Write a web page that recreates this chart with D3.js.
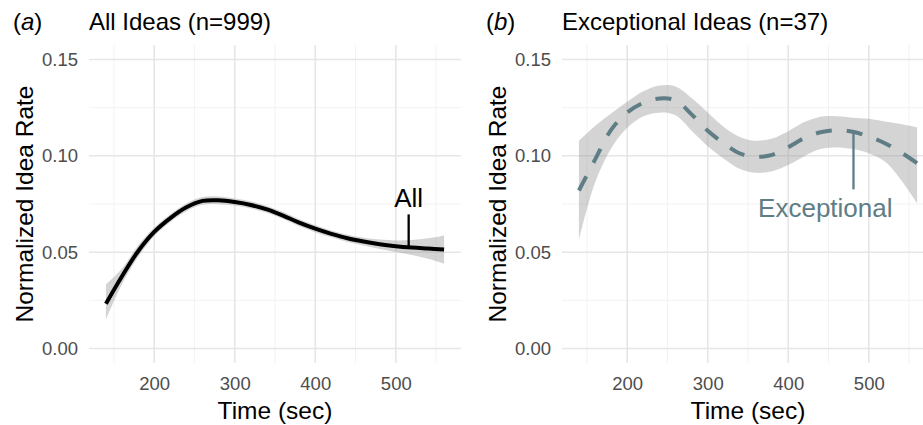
<!DOCTYPE html>
<html>
<head>
<meta charset="utf-8">
<script src="https://cdn.jsdelivr.net/npm/d3@7"></script>
<style>
  body { margin: 0; background: #fff; }
  text { font-family: "Liberation Sans", Arial, sans-serif; }
</style>
</head>
<body>
<svg id="chart" width="923" height="425"></svg>
<script>
// time points (sec)
var times = [140, 160, 180, 200, 220, 240, 260, 280, 300, 320, 340, 360, 380, 400, 420, 440, 460, 480, 500, 520, 540, 560];

// (a) all ideas - smoothed rate with confidence band
var allMean  = [0.0232, 0.0375, 0.0505, 0.0605, 0.0677, 0.0733, 0.0766, 0.0769, 0.0760, 0.0745, 0.0722, 0.0690, 0.0653, 0.0622, 0.0595, 0.0572, 0.0555, 0.0541, 0.0531, 0.0524, 0.0519, 0.0514];
var allLower = [0.0150, 0.0335, 0.0475, 0.0583, 0.0657, 0.0713, 0.0746, 0.0749, 0.0742, 0.0727, 0.0704, 0.0672, 0.0635, 0.0604, 0.0577, 0.0553, 0.0535, 0.0516, 0.0501, 0.0485, 0.0466, 0.0441];
var allUpper = [0.0332, 0.0415, 0.0535, 0.0627, 0.0697, 0.0753, 0.0786, 0.0789, 0.0778, 0.0763, 0.0740, 0.0708, 0.0671, 0.0640, 0.0613, 0.0591, 0.0575, 0.0566, 0.0561, 0.0563, 0.0572, 0.0587];

// (b) exceptional ideas
var excMean  = [0.0820, 0.0980, 0.1135, 0.1225, 0.1275, 0.1298, 0.1288, 0.1215, 0.1130, 0.1065, 0.1012, 0.0995, 0.1005, 0.1045, 0.1092, 0.1122, 0.1132, 0.1125, 0.1100, 0.1065, 0.1018, 0.0962];
var excLower = [0.0565, 0.0860, 0.1038, 0.1145, 0.1205, 0.1224, 0.1210, 0.1130, 0.1050, 0.0985, 0.0932, 0.0912, 0.0920, 0.0952, 0.0998, 0.1035, 0.1043, 0.1035, 0.1013, 0.0970, 0.0875, 0.0755];
var excUpper = [0.1078, 0.1155, 0.1220, 0.1280, 0.1335, 0.1365, 0.1360, 0.1300, 0.1225, 0.1150, 0.1098, 0.1078, 0.1090, 0.1128, 0.1175, 0.1203, 0.1205, 0.1198, 0.1192, 0.1178, 0.1165, 0.1148];

var xTicks = [200, 300, 400, 500];
var xMinor = [150, 250, 350, 450, 550];
var yTicks = [0, 0.05, 0.10, 0.15];
var yMinor = [0.025, 0.075, 0.125];

// annotations: [label, label x, label y, segment x, segment y top, segment y bottom]
var allLabel = ["All", 516, 0.0732, 516, 0.0696, 0.0525];
var excLabel = ["Exceptional", 446, 0.0680, 481, 0.1123, 0.0826];

var svg = d3.select("#chart");
var plotTop = 45, plotBottom = 363, pw = 372;
var font = '"Liberation Sans", Arial, sans-serif';

var y = d3.scaleLinear().domain([-0.0075, 0.1575]).range([plotBottom, plotTop]);

function panel(left, tag, title, mean, lower, upper, lineColor, dashed, label) {
    var x = d3.scaleLinear().domain([119, 581]).range([left, left + pw]);
    var g = svg.append("g");

    // grid
    g.selectAll(".ym").data(yMinor).enter().append("line")
        .attr("x1", left).attr("x2", left + pw)
        .attr("y1", function(d) { return y(d); }).attr("y2", function(d) { return y(d); })
        .attr("stroke", "#f0f0f0").attr("stroke-width", 0.9);
    g.selectAll(".xm").data(xMinor).enter().append("line")
        .attr("y1", plotTop).attr("y2", plotBottom)
        .attr("x1", function(d) { return x(d); }).attr("x2", function(d) { return x(d); })
        .attr("stroke", "#f0f0f0").attr("stroke-width", 0.9);
    g.selectAll(".yM").data(yTicks).enter().append("line")
        .attr("x1", left).attr("x2", left + pw)
        .attr("y1", function(d) { return y(d); }).attr("y2", function(d) { return y(d); })
        .attr("stroke", "#e6e6e6").attr("stroke-width", 1.6);
    g.selectAll(".xM").data(xTicks).enter().append("line")
        .attr("y1", plotTop).attr("y2", plotBottom)
        .attr("x1", function(d) { return x(d); }).attr("x2", function(d) { return x(d); })
        .attr("stroke", "#e6e6e6").attr("stroke-width", 1.6);

    // axes
    var ya = g.append("g").attr("transform", "translate(" + left + ",0)")
        .call(d3.axisLeft(y).tickValues(yTicks).tickFormat(d3.format(".2f")).tickSize(0).tickPadding(11));
    var xa = g.append("g").attr("transform", "translate(0," + plotBottom + ")")
        .call(d3.axisBottom(x).tickValues(xTicks).tickSize(0).tickPadding(14));
    [ya, xa].forEach(function(a) {
        a.select(".domain").remove();
        a.selectAll("text").attr("fill", "#4d4d4d").style("font-size", "18.5px").style("font-family", font);
    });

    // ribbon
    var area = d3.area()
        .x(function(d, i) { return x(times[i]); })
        .y0(function(d, i) { return y(lower[i]); })
        .y1(function(d, i) { return y(upper[i]); })
        .curve(d3.curveCatmullRom);
    g.append("path").datum(mean).attr("d", area).attr("fill", "#999").attr("fill-opacity", 0.42);

    // line
    var line = d3.line()
        .x(function(d, i) { return x(times[i]); })
        .y(function(d) { return y(d); })
        .curve(d3.curveCatmullRom);
    var p = g.append("path").datum(mean).attr("d", line)
        .attr("fill", "none").attr("stroke", lineColor).attr("stroke-width", 4);
    if (dashed) p.attr("stroke-dasharray", "16,15");

    // annotation
    g.append("line")
        .attr("x1", x(label[3])).attr("x2", x(label[3]))
        .attr("y1", y(label[4])).attr("y2", y(label[5]))
        .attr("stroke", lineColor).attr("stroke-width", 2.3);
    g.append("text").attr("x", x(label[1])).attr("y", y(label[2]))
        .attr("text-anchor", "middle").attr("fill", lineColor)
        .style("font-size", "26px").text(label[0]);

    // titles
    var t = g.append("text").attr("x", left - 76).attr("y", 29.5).style("font-size", "24px");
    t.append("tspan").text("(");
    t.append("tspan").style("font-style", "italic").text(tag);
    t.append("tspan").text(")");
    g.append("text").attr("x", left).attr("y", 29.5).style("font-size", "24px").text(title);

    g.append("text").attr("x", left + pw / 2).attr("y", 418.5)
        .attr("text-anchor", "middle").style("font-size", "24.5px").text("Time (sec)");
    g.append("text")
        .attr("transform", "translate(" + (left - 56) + "," + ((plotTop + plotBottom) / 2) + ") rotate(-90)")
        .attr("text-anchor", "middle").style("font-size", "24.5px").text("Normalized Idea Rate");
}

panel(89, "a", "All Ideas (n=999)", allMean, allLower, allUpper, "#000", false, allLabel);
panel(562, "b", "Exceptional Ideas (n=37)", excMean, excLower, excUpper, "#5e7d85", true, excLabel);
</script>
</body>
</html>
